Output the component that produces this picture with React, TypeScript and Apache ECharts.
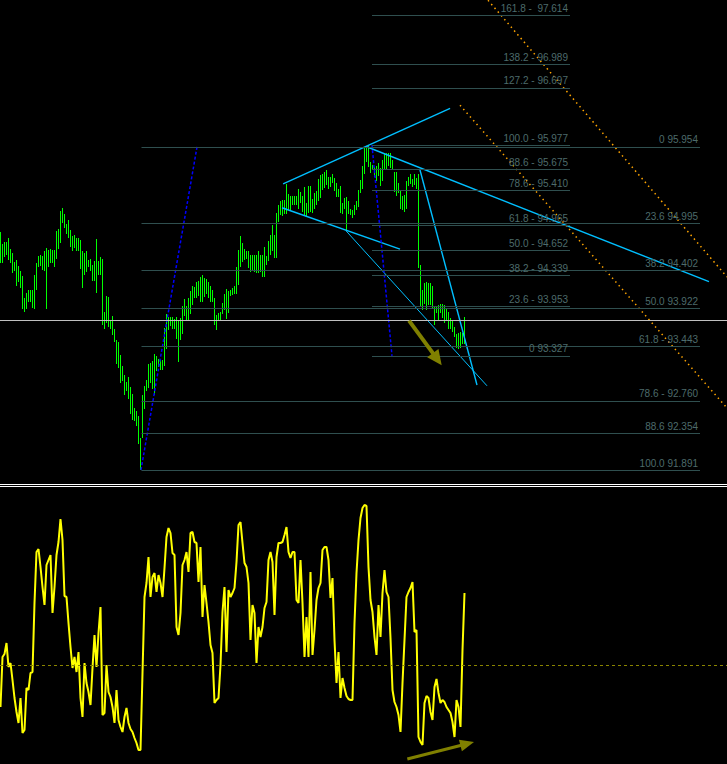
import { useEffect, useRef } from 'react';
import * as echarts from 'echarts';

// ---- price bars (high / low), one per bar index ----
const HIGH = [
  94.88, 94.73, 94.76, 94.76, 94.81, 94.67, 94.62, 94.51, 94.53, 94.46,
  94.39, 94.33, 94.06, 94.12, 94.16, 94.16, 94.15, 94.34, 94.50, 94.58,
  94.60, 94.58, 94.64, 94.68, 94.66, 94.67, 94.66, 94.66, 94.90, 94.92,
  95.15, 95.19, 95.11, 94.99, 95.04, 94.91, 94.83, 94.85, 94.81, 94.81,
  94.78, 94.64, 94.62, 94.64, 94.53, 94.55, 94.47, 94.52, 94.80, 94.52,
  94.57, 94.55, 93.88, 94.08, 94.07, 93.78, 93.83, 93.66, 93.53, 93.50,
  93.34, 93.20, 93.09, 93.00, 93.06, 92.94, 92.85, 92.67, 92.63, 92.57,
  92.29, 92.83, 92.95, 93.02, 93.22, 93.24, 93.26, 93.35, 93.33, 93.29,
  93.28, 93.28, 93.68, 93.85, 93.82, 93.81, 93.82, 93.79, 93.81, 93.78,
  93.80, 93.95, 94.04, 93.95, 94.06, 94.14, 94.20, 94.19, 94.26, 94.27,
  94.32, 94.34, 94.31, 94.29, 94.25, 94.20, 94.16, 94.06, 93.84, 93.87,
  93.88, 93.99, 94.10, 94.17, 94.14, 94.16, 94.18, 94.21, 94.44, 94.66,
  94.83, 94.75, 94.67, 94.65, 94.65, 94.60, 94.60, 94.60, 94.60, 94.65,
  94.60, 94.60, 94.70, 94.58, 94.77, 94.85, 94.97, 94.85, 95.12, 95.23,
  95.27, 95.29, 95.29, 95.49, 95.36, 95.34, 95.34, 95.34, 95.34, 95.43,
  95.39, 95.34, 95.45, 95.25, 95.46, 95.46, 95.30, 95.37, 95.40, 95.55,
  95.60, 95.62, 95.64, 95.66, 95.58, 95.58, 95.62, 95.56, 95.50, 95.43,
  95.46, 95.25, 95.31, 95.33, 95.27, 95.18, 95.16, 95.22, 95.27, 95.41,
  95.54, 95.71, 95.94, 95.97, 95.98, 95.77, 95.73, 95.70, 95.71, 95.75,
  95.69, 95.79, 95.88, 95.88, 95.88, 95.88, 95.79, 95.64, 95.64, 95.50,
  95.40, 95.34, 95.35, 95.53, 95.58, 95.61, 95.55, 95.62, 95.56, 95.62,
  94.47, 94.16, 94.24, 94.25, 94.24, 94.24, 94.20, 93.95, 93.95, 93.97,
  93.98, 93.98, 93.97, 93.93, 93.88, 93.80, 93.76, 93.69, 93.60, 93.62,
  93.63, 93.62, 93.82,
];
const LOW = [
  94.50, 94.49, 94.57, 94.60, 94.53, 94.50, 94.37, 94.40, 94.20, 94.25,
  94.18, 93.92, 93.88, 93.92, 94.00, 94.00, 93.93, 93.91, 94.15, 94.45,
  94.46, 94.41, 94.40, 93.91, 94.45, 94.49, 94.50, 94.45, 94.55, 94.67,
  94.75, 95.00, 94.94, 94.86, 94.81, 94.69, 94.65, 94.68, 94.65, 94.65,
  94.42, 94.18, 94.34, 94.38, 94.45, 94.39, 94.27, 94.27, 94.12, 94.34,
  94.34, 93.71, 93.67, 93.74, 93.69, 93.67, 93.59, 93.50, 93.22, 93.17,
  92.98, 93.01, 92.83, 92.89, 92.78, 92.60, 92.52, 92.51, 92.44, 92.22,
  91.89, 92.29, 92.66, 92.88, 92.92, 92.98, 92.91, 92.83, 93.14, 93.19,
  93.15, 93.15, 93.20, 93.41, 93.65, 93.70, 93.67, 93.67, 93.54, 93.25,
  93.52, 93.60, 93.83, 93.78, 93.78, 93.85, 93.97, 94.06, 94.06, 94.08,
  94.01, 94.01, 94.07, 94.11, 94.05, 94.00, 94.01, 93.71, 93.65, 93.76,
  93.78, 93.85, 93.90, 93.79, 93.87, 94.08, 94.09, 94.11, 94.11, 94.22,
  94.45, 94.51, 94.53, 94.54, 94.43, 94.38, 94.41, 94.38, 94.37, 94.37,
  94.38, 94.32, 94.32, 94.47, 94.52, 94.59, 94.64, 94.56, 94.56, 95.01,
  95.10, 95.09, 95.11, 95.11, 95.16, 95.16, 95.22, 95.22, 95.22, 95.18,
  95.25, 95.14, 95.09, 95.08, 95.12, 95.14, 95.13, 95.18, 95.22, 95.28,
  95.31, 95.41, 95.44, 95.48, 95.43, 95.45, 95.50, 95.40, 95.32, 95.32,
  95.13, 95.11, 95.18, 94.90, 95.11, 95.10, 95.06, 95.10, 95.16, 95.20,
  95.37, 95.42, 95.62, 95.77, 95.70, 95.63, 95.66, 95.58, 95.52, 95.59,
  95.46, 95.53, 95.67, 95.66, 95.71, 95.69, 95.68, 95.39, 95.34, 95.37,
  95.18, 95.16, 95.14, 95.18, 95.46, 95.49, 95.45, 95.47, 95.43, 94.43,
  93.94, 93.90, 93.98, 93.90, 93.97, 93.97, 93.93, 93.71, 93.86, 93.78,
  93.86, 93.80, 93.74, 93.77, 93.67, 93.66, 93.63, 93.57, 93.42, 93.41,
  93.42, 93.48, 93.48,
];

// ---- oscillator values (sub window), 0 = dashed level ----
const OSC = [
  -42, 8, 11, 22, -2, 2, -15, -33, -47, -58,
  -33, -68, -65, -23, -25, -8, -7, 62, 113, 116,
  98, 78, 60, 100, 105, 110, 52, 78, 110, 123,
  146, 125, 69, 68, 42, 18, -3, 8, -7, 13,
  -33, -52, 2, -18, -27, -40, -3, 30, -2, 32,
  58, -50, -48, 0, -27, -32, -42, -58, -25, -55,
  -62, -67, -52, -43, -58, -64, -67, -73, -78, -85,
  -85, -8, 68, 82, 108, 68, 88, 92, 73, 90,
  82, 68, 97, 128, 137, 132, 112, 110, 38, 30,
  52, 100, 105, 113, 93, 132, 133, 123, 122, 83,
  118, 48, 80, 62, 43, 20, 12, -38, -35, -33,
  0, 53, 78, 13, 75, 68, 72, 77, 103, 140,
  143, 122, 102, 98, 82, 25, 60, 52, 2, 38,
  28, 38, 57, 63, 105, 113, 103, 50, 108, 122,
  122, 123, 130, 138, 113, 107, 113, 113, 65, 62,
  105, 62, 8, 48, 8, 93, 10, 35, 65, 77,
  82, 115, 118, 118, 105, 67, 87, 25, -18, 13,
  -33, -13, -23, -31, -34, -35, -35, 42, 92, 125,
  147, 157, 160, 159, 98, 65, 53, 28, 10, 60,
  28, 72, 95, 73, 68, 27, -25, -37, -42, -50,
  -67, -18, 25, 68, 73, 77, 83, 33, 35, -72,
  -77, -80, -38, -31, -33, -47, -55, -22, -14, -28,
  -38, -35, -37, -42, -45, -48, -57, -72, -35, -42,
  -62, 15, 72,
];
const OSC_LEVEL = 0;

const CURRENT_PRICE = 93.765;

// ---- Fibonacci set A (retracement from 95.977 down to 93.327, with extensions) ----
const FIB_A_PRICES = [97.614, 96.989, 96.697, 95.977, 95.675, 95.41, 94.965, 94.652, 94.339, 93.953, 93.327];
const FIB_A_LABELS = [
  '161.8 -  97.614', '138.2 - 96.989', '127.2 - 96.697', '100.0 - 95.977', '88.6 - 95.675',
  '78.6 - 95.410', '61.8 - 94.965', '50.0 - 94.652', '38.2 - 94.339', '23.6 - 93.953', '0 93.327',
];
const FIB_A_SPAN = [185.75, 284.75];

// ---- Fibonacci set B (low 91.891 to high 95.954) ----
const FIB_B_PRICES = [95.954, 94.995, 94.402, 93.922, 93.443, 92.76, 92.354, 91.891];
const FIB_B_LABELS = [
  '0 95.954', '23.6 94.995', '38.2 94.402', '50.0 93.922', '61.8 - 93.443',
  '78.6 - 92.760', '88.6 92.354', '100.0 91.891',
];
const FIB_B_SPAN = [70.5, 349.75];

// ---- trend lines: [barIndex, price] anchors ----
const WEDGE_UPPER = [[141.3, 95.49], [224.8, 96.44]];
const WEDGE_LOWER = [[140.75, 95.19], [199.75, 94.67]];
const SUPPORT_THIN = [[172.75, 94.9], [243.25, 92.95]];
const RESIST_LONG = [[182.75, 95.96], [354.25, 94.26]];
const RESIST_STEEP = [[209.75, 95.665], [238.25, 92.96]];
const FIB_B_ANCHOR = [[70.25, 91.891], [98.25, 95.954]];
const FIB_A_ANCHOR = [[185.75, 95.977], [195.75, 93.327]];
const CHANNEL_TOP = [[243.75, 97.8], [363.25, 94.32]];
const CHANNEL_BOTTOM = [[229.75, 96.48], [363.25, 92.67]];
// arrows: [fromIndex, fromValue, toIndex, toValue]
const PRICE_ARROW = [204.25, 93.77, 220.6, 93.21];
const OSC_ARROW = [203.4, -94, 236.75, -77];

const FONT = "'Liberation Sans', Arial, sans-serif";

function fibMarkLine(prices: number[], labels: string[], span: number[]) {
  return prices.map((p, k) => [
    {
      coord: [span[0], p],
      label: { formatter: labels[k] },
    },
    { coord: [span[1], p] },
  ]);
}

function seg(points: number[][], color: string, width: number, type: any, xi = 0) {
  return {
    type: 'line',
    xAxisIndex: xi,
    yAxisIndex: xi,
    data: points,
    showSymbol: false,
    symbol: 'none',
    silent: true,
    lineStyle: { color, width, type },
    z: 3,
  };
}

function arrowSeries(arrow: number[], idx: number, shaft: number, headLen: number, headHalf: number) {
  return {
    type: 'custom',
    xAxisIndex: idx,
    yAxisIndex: idx,
    silent: true,
    z: 6,
    data: [arrow],
    renderItem: (_p: any, api: any) => {
      const a = api.coord([api.value(0), api.value(1)]);
      const b = api.coord([api.value(2), api.value(3)]);
      const dx = b[0] - a[0];
      const dy = b[1] - a[1];
      const len = Math.sqrt(dx * dx + dy * dy);
      const ux = dx / len;
      const uy = dy / len;
      const bx = b[0] - ux * headLen;
      const by = b[1] - uy * headLen;
      return {
        type: 'group',
        children: [
          {
            type: 'line',
            shape: { x1: a[0], y1: a[1], x2: bx + ux, y2: by + uy },
            style: { stroke: '#808000', lineWidth: shaft },
          },
          {
            type: 'polygon',
            shape: {
              points: [
                [b[0], b[1]],
                [bx - uy * headHalf, by + ux * headHalf],
                [bx + uy * headHalf, by - ux * headHalf],
              ],
            },
            style: { fill: '#808000' },
          },
        ],
      };
    },
  };
}

export default function App() {
  const ref = useRef<HTMLDivElement>(null);

  useEffect(() => {
    document.body.style.margin = '0';
    document.body.style.background = '#000';
    const chart = echarts.init(ref.current!, null, { renderer: 'svg' });
    const xBase = { type: 'value', min: -0.25, max: 363.25, show: false };
    const fibLabel = {
      show: true,
      position: 'insideEndTop',
      color: '#4d6b6b',
      fontSize: 10,
      fontFamily: FONT,
      distance: 2,
    };
    chart.setOption({
      animation: false,
      backgroundColor: '#000',
      grid: [
        { left: 0, top: 0, width: 727, height: 483 },
        { left: 0, top: 487, width: 727, height: 277 },
      ],
      xAxis: [
        { ...xBase, gridIndex: 0 },
        { ...xBase, gridIndex: 1 },
      ],
      yAxis: [
        { type: 'value', gridIndex: 0, min: 91.7275, max: 97.803, show: false },
        { type: 'value', gridIndex: 1, min: -99, max: 178, show: false },
      ],
      graphic: [
        { type: 'line', shape: { x1: 0, y1: 484.5, x2: 727, y2: 484.5 }, style: { stroke: '#ffffff', lineWidth: 1 } },
        { type: 'line', shape: { x1: 0, y1: 486.5, x2: 727, y2: 486.5 }, style: { stroke: '#ffffff', lineWidth: 1 } },
      ],
      series: [
        // carrier for fib levels and current price
        {
          type: 'line',
          xAxisIndex: 0,
          yAxisIndex: 0,
          data: [[FIB_B_SPAN[0], FIB_B_PRICES[0]], [FIB_B_SPAN[1], FIB_B_PRICES[0]]],
          showSymbol: false,
          symbol: 'none',
          silent: true,
          lineStyle: { opacity: 0 },
          z: 1,
          markLine: {
            silent: true,
            symbol: 'none',
            animation: false,
            lineStyle: { color: '#2f4f4f', width: 1, type: 'solid' },
            label: fibLabel,
            emphasis: { disabled: true },
            data: [
              ...fibMarkLine(FIB_A_PRICES, FIB_A_LABELS, FIB_A_SPAN),
              ...fibMarkLine(FIB_B_PRICES, FIB_B_LABELS, FIB_B_SPAN),
              { yAxis: CURRENT_PRICE, lineStyle: { color: '#c0c0c0', width: 1 }, label: { show: false } },
            ],
          },
        },
        {
          type: 'custom',
          xAxisIndex: 0,
          yAxisIndex: 0,
          silent: true,
          z: 2,
          data: HIGH.map((h, i) => [i, h, LOW[i]]),
          encode: { x: 0, y: [1, 2] },
          renderItem: (_params: any, api: any) => {
            const hi = api.coord([api.value(0), api.value(1)]);
            const lo = api.coord([api.value(0), api.value(2)]);
            const y1 = Math.round(hi[1]);
            const y2 = Math.max(Math.round(lo[1]), y1 + 1);
            return {
              type: 'rect',
              shape: { x: Math.round(hi[0] - 0.5), y: y1, width: 1, height: y2 - y1 },
              style: { fill: '#00ff00' },
            };
          },
        },
        seg(WEDGE_UPPER, '#00bfff', 1.4, 'solid'),
        seg(WEDGE_LOWER, '#00bfff', 1.4, 'solid'),
        seg(SUPPORT_THIN, '#00bfff', 1, 'solid'),
        seg(RESIST_LONG, '#00bfff', 1.4, 'solid'),
        seg(RESIST_STEEP, '#00bfff', 1.4, 'solid'),
        seg(FIB_B_ANCHOR, '#0000ff', 1.5, [3, 2]),
        seg(FIB_A_ANCHOR, '#0000ff', 1.5, [3, 2]),
        seg(CHANNEL_TOP, '#ffa500', 1.5, [1.5, 3.5]),
        seg(CHANNEL_BOTTOM, '#ffa500', 1.5, [1.5, 3.5]),
        arrowSeries(PRICE_ARROW, 0, 4, 15, 7),
        // oscillator
        {
          type: 'line',
          xAxisIndex: 1,
          yAxisIndex: 1,
          data: OSC.map((v, i) => [i, v]),
          showSymbol: false,
          symbol: 'none',
          silent: true,
          lineStyle: { color: '#ffff00', width: 2 },
          z: 3,
          markLine: {
            silent: true,
            animation: false,
            symbol: 'none',
            lineStyle: { color: '#8a8400', width: 1, type: [3, 3] },
            label: { show: false },
            emphasis: { disabled: true },
            data: [{ yAxis: OSC_LEVEL }],
          },
        },
        arrowSeries(OSC_ARROW, 1, 3, 14, 6),
      ],
    });
    return () => chart.dispose();
  }, []);

  return <div ref={ref} style={{ width: 727, height: 764, background: '#000' }} />;
}
